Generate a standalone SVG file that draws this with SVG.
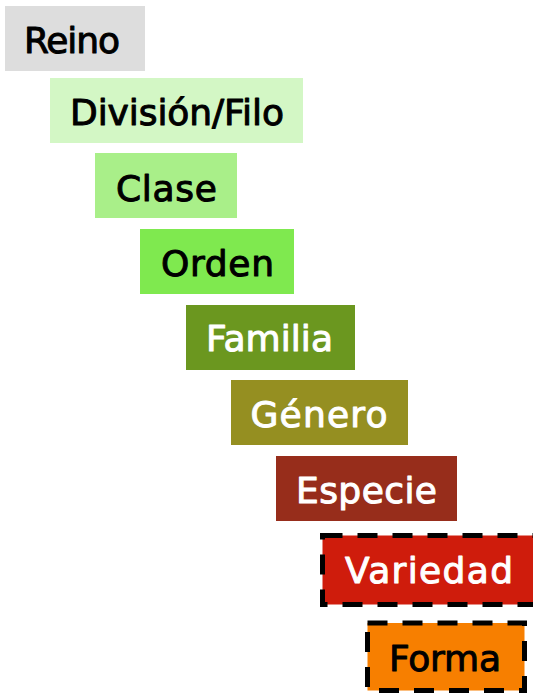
<svg xmlns="http://www.w3.org/2000/svg" width="533" height="694" viewBox="0 0 533 694">
<style>
text{font-family:"DejaVu Sans","Liberation Sans",sans-serif;font-size:36px;text-anchor:middle;stroke-width:1;stroke-linejoin:round;}
.dk{fill:#000;stroke:#000;}
.lt{fill:#fff;stroke:#fff;}
.dash{stroke:#000;stroke-width:5;stroke-dasharray:20 15;}
</style>
<rect width="533" height="694" fill="#fff"/>
<g id="reino"><rect x="5" y="6" width="140" height="65" fill="#DDDDDD"/><text class="dk" x="72" y="53" textLength="96" lengthAdjust="spacing">Reino</text></g>
<g id="division"><rect x="50" y="78" width="253" height="65" fill="#D3F7C5"/><text class="dk" x="177" y="125" textLength="214" lengthAdjust="spacing">División/Filo</text></g>
<g id="clase"><rect x="95" y="153" width="142" height="65" fill="#A9EF89"/><text class="dk" x="166.5" y="200.5" textLength="101" lengthAdjust="spacing">Clase</text></g>
<g id="orden"><rect x="140" y="229" width="154" height="65" fill="#7FE94F"/><text class="dk" x="217.5" y="276" textLength="113" lengthAdjust="spacing">Orden</text></g>
<g id="familia"><rect x="186" y="305" width="169" height="65" fill="#6B971F"/><text class="lt" x="269.5" y="351" textLength="127" lengthAdjust="spacing">Familia</text></g>
<g id="genero"><rect x="231" y="380" width="177" height="65" fill="#958F21"/><text class="lt" x="319" y="427" textLength="137" lengthAdjust="spacing">Género</text></g>
<g id="especie"><rect x="276" y="456" width="181" height="65" fill="#972D1B"/><text class="lt" x="366.5" y="503" textLength="141" lengthAdjust="spacing">Especie</text></g>
<g id="variedad"><rect class="dash" x="322.5" y="535.5" width="213" height="69" fill="#CF1C0C"/><text class="lt" x="429" y="583" textLength="168" lengthAdjust="spacing">Variedad</text></g>
<g id="forma"><rect class="dash" x="367.5" y="623" width="157" height="67.5" fill="#F77F00"/><text class="dk" x="445" y="671" textLength="112" lengthAdjust="spacing">Forma</text></g>
<g id="connectors"></g>
</svg>
